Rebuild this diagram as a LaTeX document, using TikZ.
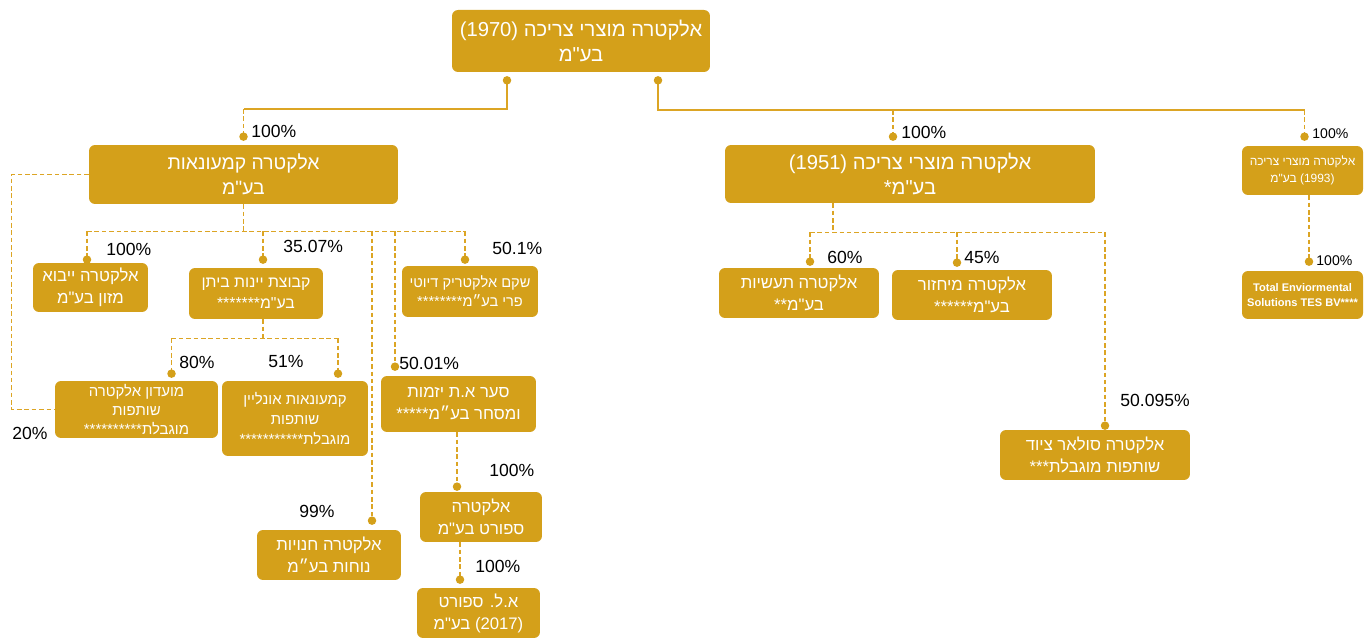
\documentclass[tikz,border=0pt]{standalone}
\usepackage{fontspec}
\setmainfont{Liberation Sans}
\newfontfamily\hebfont[Script=Hebrew]{Liberation Sans}
\usepackage{tikz}
\usetikzlibrary{calc,positioning}
\TeXXeTstate=1
\newcommand{\heb}[1]{\beginR #1\endR}
\definecolor{gold}{RGB}{212,160,26}
\definecolor{goldline}{RGB}{220,165,36}

\begin{document}
\begin{tikzpicture}[x=0.02cm,y=-0.02cm]

      \tikzstyle{firm}=[rectangle,rounded corners=0.12cm,
        inner sep=0pt,align=center,text=white,fill=gold,
        font=\hebfont\fontsize{10}{12.5}\selectfont]
      \tikzstyle{pct}=[anchor=west,inner sep=0pt,
        font=\fontsize{10}{12}\selectfont]
      \tikzstyle{link}=[draw=goldline,line width=0.75pt]
      \tikzstyle{dashlink}=[link,dash pattern=on 2.6pt off 1.6pt]

      \fill[white] (0,0) rectangle (1372,641);

      % holding companies
      \node(TOP)[firm,minimum width=5.16cm,minimum height=1.24cm,
        font=\hebfont\fontsize{11.5}{14}\selectfont] at (581,41)
        {\heb{אלקטרה מוצרי צריכה \beginL(1970)\endL}\\\heb{בע"מ}};
      \node(COMM)[firm,minimum width=6.18cm,minimum height=1.18cm,
        font=\hebfont\fontsize{11}{14}\selectfont] at (243.5,174.5)
        {\heb{אלקטרה קמעונאות}\\\heb{בע"מ}};
      \node(C1951)[firm,minimum width=7.40cm,minimum height=1.16cm,
        font=\hebfont\fontsize{11.5}{14}\selectfont] at (910,174)
        {\heb{אלקטרה מוצרי צריכה \beginL(1951)\endL}\\\heb{בע"מ*}};
      \node(C1993)[firm,minimum width=2.42cm,minimum height=0.98cm,
        font=\hebfont\fontsize{6.8}{10}\selectfont] at (1302.5,170.5)
        {\heb{אלקטרה מוצרי צריכה}\\\heb{\beginL(1993)\endL{} בע"מ}};

      % retail branch
      \node(IEVA)[firm,minimum width=2.30cm,minimum height=0.98cm,
        font=\hebfont\fontsize{9.5}{12.5}\selectfont] at (90.5,287.5)
        {\heb{אלקטרה ייבוא}\\\heb{מזון בע"מ}};
      \node(BITAN)[firm,minimum width=2.68cm,minimum height=1.02cm,
        font=\hebfont\fontsize{9}{12}\selectfont] at (256,293.5)
        {\heb{קבוצת יינות ביתן}\\\heb{בע"מ*******}};
      \node(SHEKEM)[firm,minimum width=2.72cm,minimum height=1.02cm,
        font=\hebfont\fontsize{8.3}{11}\selectfont] at (470,291.5)
        {\heb{שקם אלקטריק דיוטי}\\\heb{פרי בע״מ********}};
      \node(CLUB)[firm,minimum width=3.26cm,minimum height=1.14cm,
        font=\hebfont\fontsize{8.5}{10.8}\selectfont] at (136.5,409.5)
        {\heb{מועדון אלקטרה}\\\heb{שותפות}\\\heb{מוגבלת**********}};
      \node(ONLINE)[firm,minimum width=2.92cm,minimum height=1.50cm,
        font=\hebfont\fontsize{8.5}{11.5}\selectfont] at (295,418.5)
        {\heb{קמעונאות אונליין}\\\heb{שותפות}\\\heb{מוגבלת***********}};
      \node(SAAR)[firm,minimum width=3.10cm,minimum height=1.12cm,
        font=\hebfont\fontsize{9.5}{12.5}\selectfont] at (458.5,404)
        {\heb{סער א.ת יזמות}\\\heb{ומסחר בע״מ*****}};
      \node(SPORT)[firm,minimum width=2.44cm,minimum height=1.00cm,
        font=\hebfont\fontsize{9.5}{12.5}\selectfont] at (481,517)
        {\heb{אלקטרה}\\\heb{ספורט בע"מ}};
      \node(ALSPORT)[firm,minimum width=2.46cm,minimum height=1.00cm,
        font=\hebfont\fontsize{9.5}{12.5}\selectfont] at (478.5,613)
        {\heb{א.ל. ספורט}\\\heb{\beginL(2017)\endL{} בע"מ}};
      \node(HANUT)[firm,minimum width=2.88cm,minimum height=1.00cm,
        font=\hebfont\fontsize{9.5}{12.5}\selectfont] at (329,555)
        {\heb{אלקטרה חנויות}\\\heb{נוחות בע״מ}};

      % consumer products branch
      \node(TAAS)[firm,minimum width=3.20cm,minimum height=1.00cm,
        font=\hebfont\fontsize{9.5}{12.5}\selectfont] at (799,293)
        {\heb{אלקטרה תעשיות}\\\heb{בע"מ**}};
      \node(MIHZ)[firm,minimum width=3.20cm,minimum height=1.00cm,
        font=\hebfont\fontsize{9.5}{12.5}\selectfont] at (972,295)
        {\heb{אלקטרה מיחזור}\\\heb{בע"מ******}};
      \node(SOLAR)[firm,minimum width=3.80cm,minimum height=1.00cm,
        font=\hebfont\fontsize{9.5}{12.5}\selectfont] at (1095,455)
        {\heb{אלקטרה סולאר ציוד}\\\heb{שותפות מוגבלת***}};
      \node(TES)[firm,minimum width=2.42cm,minimum height=0.96cm,
        font=\bfseries\fontsize{6.3}{8.5}\selectfont] at (1302.5,295)
        {Total Enviormental\\Solutions TES BV****};

      % connector dots
      \coordinate(dT1) at ($(TOP.south)+(-74,8)$);
      \coordinate(dT2) at ($(TOP.south)+(77,8)$);
      \coordinate(dCOMM) at ($(COMM.north)+(0,-8)$);
      \coordinate(d1951) at ($(C1951.north)+(-17,-8)$);
      \coordinate(d1993) at ($(C1993.north)+(2,-9)$);
      \coordinate(dIEVA) at ($(IEVA.north)+(-3.5,-3)$);
      \coordinate(dBITAN) at ($(BITAN.north)+(7,-8)$);
      \coordinate(dSHEKEM) at ($(SHEKEM.north)+(-5,-6)$);
      \coordinate(dCLUB) at ($(CLUB.north)+(35,-7)$);
      \coordinate(dONLINE) at ($(ONLINE.north)+(43,-7)$);
      \coordinate(dSAAR) at ($(SAAR.north)+(-63.5,-9)$);
      \coordinate(dHANUT) at ($(HANUT.north)+(43,-9)$);
      \coordinate(dSPORT) at ($(SPORT.north)+(-24,-5)$);
      \coordinate(dAL) at ($(ALSPORT.north)+(-18.5,-8)$);
      \coordinate(dTAAS) at ($(TAAS.north)+(11,-6)$);
      \coordinate(dMIHZ) at ($(MIHZ.north)+(-15,-7)$);
      \coordinate(dSOLAR) at ($(SOLAR.north)+(10,-4)$);
      \coordinate(dTES) at ($(TES.north)+(6.5,-9)$);

      % top level links
      \draw[link] (dT1) |- (dCOMM|-0,109);
      \draw[dashlink] (dCOMM|-0,109) -- (dCOMM);
      \draw[link] (dT2) |- (d1993|-0,110);
      \draw[dashlink] (d1951|-0,110) -- (d1951);
      \draw[dashlink] (d1993|-0,110) -- (d1993);

      % retail links
      \draw[dashlink] (COMM.south) -- ++(0,27) coordinate(jCOMM);
      \draw[dashlink] (dIEVA|-jCOMM) -- (dSHEKEM|-jCOMM);
      \draw[dashlink] (dIEVA|-jCOMM) -- (dIEVA);
      \draw[dashlink] (dBITAN|-jCOMM) -- (dBITAN);
      \draw[dashlink] (dSHEKEM|-jCOMM) -- (dSHEKEM);
      \draw[dashlink] (dHANUT|-jCOMM) -- (dHANUT);
      \draw[dashlink] (dSAAR|-jCOMM) -- (dSAAR);
      \draw[dashlink] (COMM.west) -- ++(-77,0) |- (CLUB.west);
      \draw[dashlink] (dBITAN|-BITAN.south) -- ++(0,19) coordinate(jBITAN);
      \draw[dashlink] (dCLUB|-jBITAN) -- (dONLINE|-jBITAN);
      \draw[dashlink] (dCLUB|-jBITAN) -- (dCLUB);
      \draw[dashlink] (dONLINE|-jBITAN) -- (dONLINE);
      \draw[dashlink] (dSPORT|-SAAR.south) -- (dSPORT);
      \draw[dashlink] (dAL|-SPORT.south) -- (dAL);

      % consumer products links
      \draw[dashlink] ($(C1951.south)+(-77,0)$) -- ++(0,29) coordinate(j1951);
      \draw[dashlink] (dTAAS|-j1951) -- (dSOLAR|-j1951);
      \draw[dashlink] (dTAAS|-j1951) -- (dTAAS);
      \draw[dashlink] (dMIHZ|-j1951) -- (dMIHZ);
      \draw[dashlink] (dSOLAR|-j1951) -- (dSOLAR);
      \draw[dashlink] (dTES|-C1993.south) -- (dTES);

      \foreach \d in {dT1,dT2,dCOMM,d1951,d1993,dIEVA,dBITAN,dSHEKEM,
        dCLUB,dONLINE,dSAAR,dHANUT,dSPORT,dAL,dTAAS,dMIHZ,dSOLAR,dTES}
        \fill[gold] (\d) circle (0.085cm);

      % shares
      \node(pCOMM)[pct] at (251,131){100\%};
      \node(p1951)[pct] at (901,132){100\%};
      \node(p1993)[pct,font=\fontsize{8}{10}\selectfont] at (1312,134){100\%};
      \node(pIEVA)[pct] at (106,249){100\%};
      \node(pBITAN)[pct] at (283,246){35.07\%};
      \node(pSHEKEM)[pct] at (492,248){50.1\%};
      \node(pCLUB)[pct] at (179,362){80\%};
      \node(pONLINE)[pct] at (268,361){51\%};
      \node(pSAAR)[pct] at (399,363){50.01\%};
      \node(pCLUB2)[pct] at (12,433){20\%};
      \node(pSPORT)[pct] at (489,470){100\%};
      \node(pAL)[pct] at (475,566){100\%};
      \node(pHANUT)[pct] at (299,511){99\%};
      \node(pTAAS)[pct] at (827,257){60\%};
      \node(pMIHZ)[pct] at (964,257){45\%};
      \node(pSOLAR)[pct] at (1120,400){50.095\%};
      \node(pTES)[pct,font=\fontsize{8}{10}\selectfont] at (1316,261){100\%};

    \end{tikzpicture}
\end{document}
